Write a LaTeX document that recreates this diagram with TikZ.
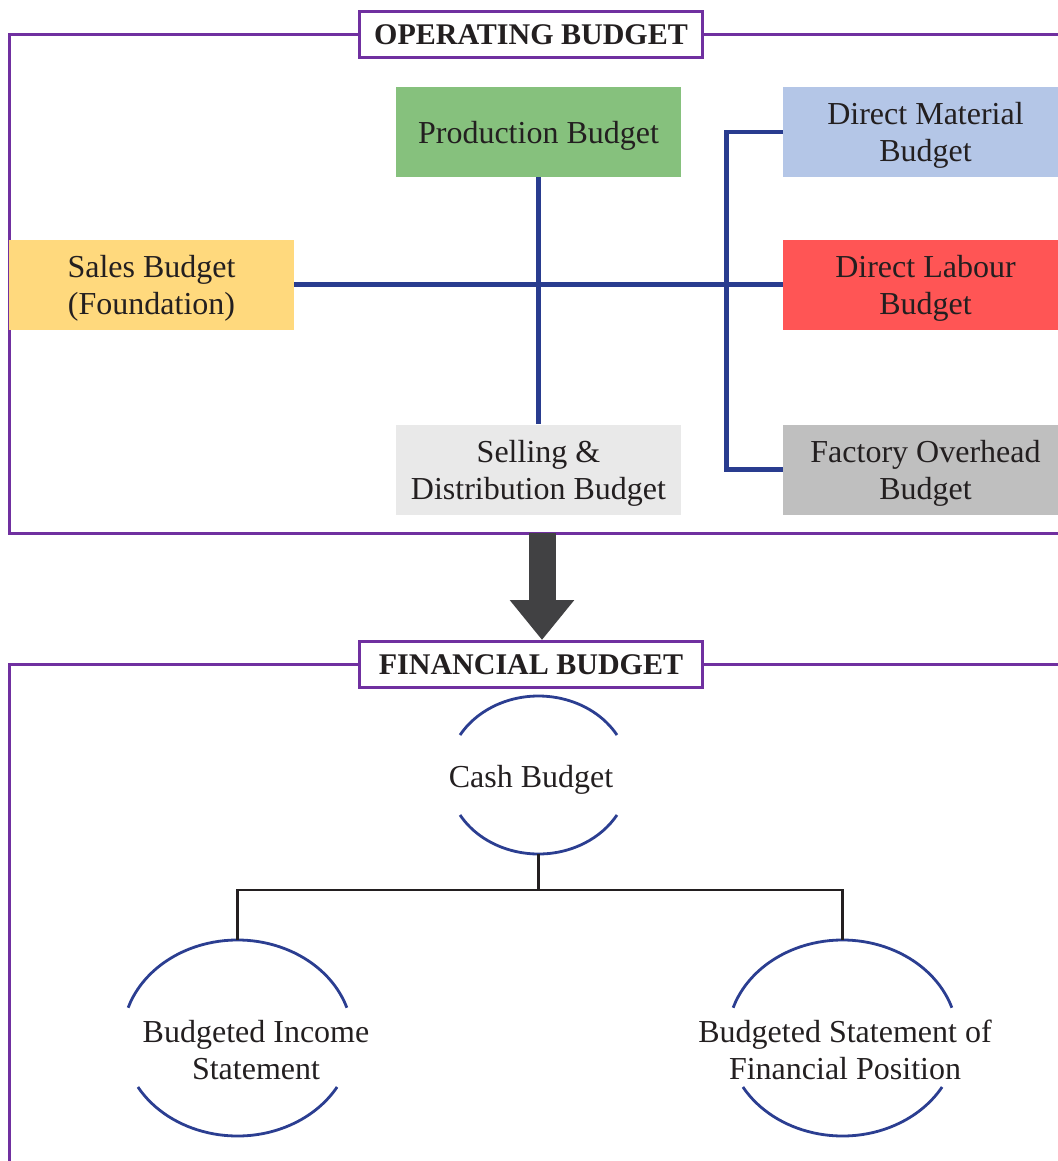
\documentclass[tikz,border=0pt]{standalone}
\usepackage{fontspec}
\setmainfont{Liberation Serif}
\usepackage{xcolor}
\usepackage{tikz}
\usetikzlibrary{arrows.meta,positioning,calc,shapes.geometric}
\definecolor{framepurple}{RGB}{112,48,160}
\definecolor{linkblue}{RGB}{41,60,143}
\definecolor{ringblue}{RGB}{43,62,145}
\definecolor{inkdark}{RGB}{35,31,32}
\definecolor{arrowgrey}{RGB}{65,65,67}
\definecolor{boxgreen}{RGB}{134,193,125}
\definecolor{boxyellow}{RGB}{255,217,125}
\definecolor{boxsilver}{RGB}{233,233,233}
\definecolor{boxblue}{RGB}{180,198,231}
\definecolor{boxred}{RGB}{255,85,85}
\definecolor{boxgrey}{RGB}{191,191,191}

\begin{document}
\begin{tikzpicture}[x=0.5pt,y=0.5pt,font=\fontsize{16}{18.5}\selectfont,text=inkdark,
    budgetbox/.style={fill=#1,minimum width=142.5pt,minimum height=45pt,inner sep=0pt,
      text depth=0pt,align=center},
    titlebox/.style={draw=framepurple,line width=1.5pt,fill=white,minimum width=171.5pt,
      minimum height=23pt,inner sep=0pt,font=\fontsize{15}{18}\selectfont\bfseries},
    frame/.style={draw=framepurple,line width=1.5pt},
    link/.style={draw=linkblue,line width=2.3pt},
    tree/.style={draw=inkdark,line width=1.4pt},
    ring/.style={draw=ringblue,line width=1.4pt},
    ringshape/.style={ellipse,inner sep=0pt,outer sep=0pt},
    ringtext/.style={align=center,inner sep=0pt}]
  \useasboundingbox (0,0) rectangle (1058,-1161);
  \newcommand{\gapring}[7]{
    \draw[ring] ([shift={(#4:#2 and #3)}]#1.center) arc[start angle=#4,end angle=#5,x radius=#2,y radius=#3];
    \draw[ring] ([shift={(#6:#2 and #3)}]#1.center) arc[start angle=#6,end angle=#7,x radius=#2,y radius=#3];}

  \node[titlebox] (optitle) at (531,-34.5) {OPERATING BUDGET};
  \draw[frame] (optitle.west) -| (9,-533) -- (1058,-533);
  \draw[frame] (optitle.east) -- (1058,-34.5);

  \node[budgetbox=boxgreen] (prod) at (538.5,-132) {Production Budget};
  \node[budgetbox=boxyellow] (sales) at (151.5,-284.5) {Sales Budget\\(Foundation)};
  \node[budgetbox=boxsilver] (sell) at (538.5,-469.5) {Selling \&\\Distribution Budget};
  \foreach \name/\ypos/\col/\lab in {mat/-132/boxblue/Direct Material,
      lab/-284.5/boxred/Direct Labour,fac/-469.5/boxgrey/Factory Overhead}
    \node[budgetbox=\col] (\name) at (925.5,\ypos) {\lab\\Budget};

  \draw[link] (sales.east) -- (lab.west);
  \draw[link] (prod.south) -- (sell.north);
  \draw[link] (mat.west) -- ++(-56,0) |- (fac.west);

  \node[titlebox] (fintitle) at (531,-664.5) {FINANCIAL BUDGET};
  \draw[frame] (fintitle.west) -| (9,-1161);
  \draw[frame] (fintitle.east) -- (1058,-664.5);

  \coordinate (opfoot) at (542,-533);
  \draw[arrowgrey,line width=13.5pt,-{Triangle[length=20pt,width=31pt]}]
    (opfoot) -- (opfoot |- fintitle.north);

  \node[ringshape,minimum width=91pt,minimum height=79pt] (cashring) at (538.5,-775) {};
  \node[ringtext] (cash) at (531,-780) {Cash Budget};
  \node[ringshape,minimum width=115pt,minimum height=98pt] (incring) at (237.5,-1038) {};
  \node[ringtext] (inc) at (256,-1050) {Budgeted Income\\Statement};
  \node[ringshape,minimum width=115pt,minimum height=98pt] (posring) at (842.5,-1038) {};
  \node[ringtext] (pos) at (845,-1050) {Budgeted Statement of\\Financial Position};
  \gapring{cashring}{91}{79}{30.4}{149.6}{210.4}{329.6}
  \gapring{incring}{115}{98}{18}{162}{210}{330}
  \gapring{posring}{115}{98}{18}{162}{210}{330}

  \draw[tree] (cashring.south) -- ++(0,-36) coordinate (fork);
  \draw[tree] (incring.north) |- (fork) -| (posring.north);
\end{tikzpicture}
\end{document}
